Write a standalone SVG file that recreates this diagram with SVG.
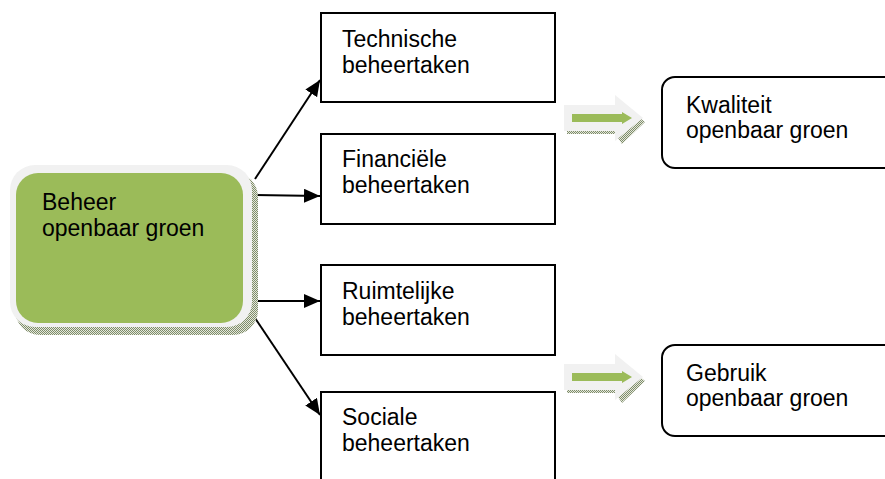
<svg xmlns="http://www.w3.org/2000/svg" width="885" height="479" viewBox="0 0 885 479">
<style>
.t{font-family:"Liberation Sans",Arial,sans-serif;font-size:23px;fill:#000}
.box{fill:#fff;stroke:#000;stroke-width:2}
.conn{stroke:#000;stroke-width:2;fill:none}
.halo{fill:#f1f1f1}
.hatch{fill:url(#hp)}
.green{fill:#9bbb59}
</style>
<defs>
<pattern id="hp" width="2" height="2" patternUnits="userSpaceOnUse">
<rect width="2" height="2" fill="#e4e8dc"/>
<rect width="1" height="1" fill="#7f8c6a"/>
<rect x="1" y="1" width="1" height="1" fill="#7f8c6a"/>
</pattern>
<marker id="ah" markerWidth="8" markerHeight="7" refX="8" refY="3.5" orient="auto" markerUnits="strokeWidth">
<path d="M0,0 L8,3.5 L0,7 Z" fill="#000"/>
</marker>
</defs>

<g id="connectors">
<line class="conn" x1="255" y1="179" x2="320" y2="80" marker-end="url(#ah)"/>
<line class="conn" x1="255" y1="195" x2="320" y2="196" marker-end="url(#ah)"/>
<line class="conn" x1="255" y1="301" x2="320" y2="301" marker-end="url(#ah)"/>
<line class="conn" x1="255" y1="318" x2="320" y2="415" marker-end="url(#ah)"/>
</g>

<g id="beheer">
<rect class="hatch" x="15" y="172" width="243" height="163" rx="25"/>
<rect class="halo" x="10" y="165" width="242" height="162" rx="25"/>
<rect class="green" x="16" y="173" width="227" height="150" rx="22"/>
<text class="t" x="42" y="210">Beheer</text>
<text class="t" x="42" y="236">openbaar groen</text>
</g>

<g id="technische">
<rect class="box" x="321" y="13" width="234" height="89"/>
<text class="t" x="342" y="47">Technische</text>
<text class="t" x="342" y="73">beheertaken</text>
</g>

<g id="financiele">
<rect class="box" x="321" y="134" width="234" height="90"/>
<text class="t" x="342" y="167">Financiële</text>
<text class="t" x="342" y="193">beheertaken</text>
</g>

<g id="ruimtelijke">
<rect class="box" x="321" y="265" width="234" height="90"/>
<text class="t" x="342" y="299">Ruimtelijke</text>
<text class="t" x="342" y="325">beheertaken</text>
</g>

<g id="sociale">
<rect class="box" x="321" y="392" width="234" height="100"/>
<text class="t" x="342" y="425">Sociale</text>
<text class="t" x="342" y="451">beheertaken</text>
</g>

<g id="arrow1">
<path class="hatch" d="M567,128 H615 V134 H567 Z"/>
<path class="hatch" d="M618,138 L640,118 L645,122 L622,144 Z"/>
<path class="halo" d="M564,105 H615 V95 L643,118 L615,141 V131 H564 Z"/>
<path class="green" d="M572,114 H622 V112 L632,118 L622,124 V122 H572 Z"/>
</g>

<g id="arrow2">
<path class="hatch" d="M567,387 H615 V393 H567 Z"/>
<path class="hatch" d="M618,397 L640,377 L645,381 L622,403 Z"/>
<path class="halo" d="M564,364 H615 V354 L643,377 L615,400 V390 H564 Z"/>
<path class="green" d="M572,373 H622 V371 L632,377 L622,383 V381 H572 Z"/>
</g>

<g id="kwaliteit">
<rect class="box" x="662" y="77" width="240" height="91" rx="13"/>
<text class="t" x="686" y="113">Kwaliteit</text>
<text class="t" x="686" y="138">openbaar groen</text>
</g>

<g id="gebruik">
<rect class="box" x="662" y="345" width="240" height="91" rx="13"/>
<text class="t" x="686" y="381">Gebruik</text>
<text class="t" x="686" y="406">openbaar groen</text>
</g>
</svg>
